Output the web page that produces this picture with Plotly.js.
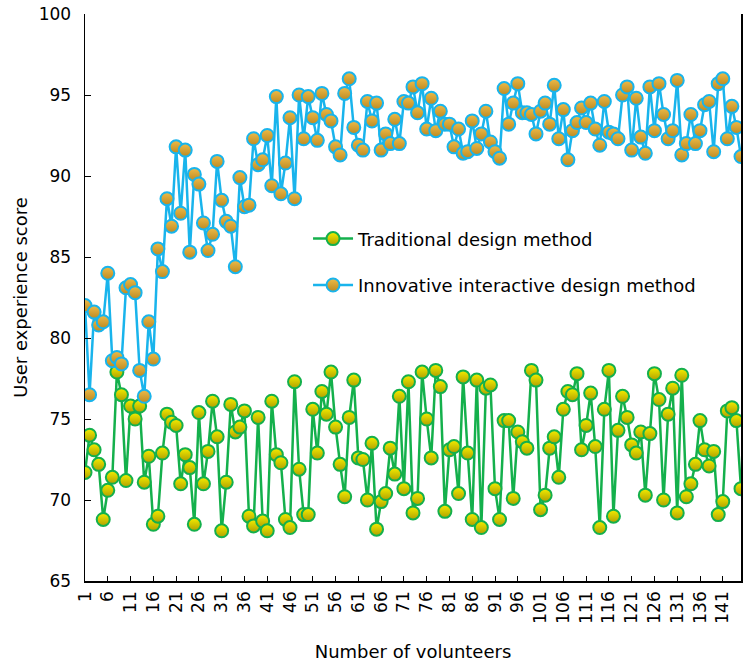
<!DOCTYPE html>
<html>
<head>
<meta charset="utf-8">
<script src="https://cdn.plot.ly/plotly-3.0.1.min.js"></script>
<style>html,body{margin:0;padding:0;background:#fff;}#chart{width:743px;height:665px;}</style>
</head>
<body>
<div id="chart"></div>
<script>
const volunteers = Array.from({length: 145}, (_, i) => i + 1);
const traditional = [
71.7,74.0,73.1,72.2,68.8,70.6,71.4,77.9,76.5,71.2,
75.8,75.0,75.8,71.1,72.7,68.5,69.0,72.9,75.3,74.8,
74.6,71.0,72.8,72.0,68.5,75.4,71.0,73.0,76.1,73.9,
68.1,71.1,75.9,74.2,74.5,75.5,69.0,68.4,75.1,68.7,
68.1,76.1,72.8,72.3,68.8,68.3,77.3,71.9,69.1,69.1,
75.6,72.9,76.7,75.3,77.9,74.5,72.2,70.2,75.1,77.4,
72.6,72.5,70.0,73.5,68.2,69.9,70.4,73.2,71.6,76.4,
70.7,77.3,69.2,70.1,77.9,75.0,72.6,78.0,77.0,69.3,
73.1,73.3,70.4,77.6,72.9,68.8,77.4,68.3,76.9,77.1,
70.7,68.8,74.9,74.9,70.1,74.2,73.6,73.2,78.0,77.4,
69.4,70.3,73.2,73.9,71.4,75.6,76.7,76.5,77.8,73.1,
74.6,76.6,73.3,68.3,75.6,78.0,69.0,74.3,76.4,75.1,
73.4,72.9,74.2,70.3,74.1,77.8,76.2,70.0,75.3,76.9,
69.2,77.7,70.2,71.0,72.2,74.9,73.1,72.1,73.0,69.1,
69.9,75.5,75.7,74.9,70.7
];
const innovative = [
82.0,76.5,81.6,80.8,81.0,84.0,78.6,78.8,78.4,83.1,
83.3,82.8,78.0,76.4,81.0,78.7,85.5,84.1,88.6,86.9,
91.8,87.7,91.6,85.3,90.1,89.5,87.1,85.4,86.4,90.9,
88.5,87.2,86.9,84.4,89.9,88.1,88.2,92.3,90.7,91.0,
92.5,89.4,94.9,88.9,90.8,93.6,88.6,95.0,92.3,94.9,
93.6,92.2,95.1,93.8,93.4,91.8,91.3,95.1,96.0,93.0,
91.9,91.6,94.6,93.4,94.5,91.6,92.6,92.0,93.5,92.0,
94.6,94.5,95.5,93.9,95.7,92.9,94.8,92.8,94.0,93.2,
93.2,91.8,92.9,91.4,91.5,93.4,91.7,92.6,94.0,92.1,
91.5,91.1,95.4,93.2,94.5,95.7,93.9,93.9,93.8,92.6,
94.0,94.5,93.2,95.6,92.3,94.1,91.0,92.8,93.3,94.2,
93.3,94.5,92.9,91.9,94.6,92.7,92.6,92.3,95.0,95.5,
91.6,94.8,92.4,91.4,95.5,92.8,95.7,93.8,92.3,92.8,
95.9,91.3,92.0,93.8,92.0,92.8,94.4,94.6,91.5,95.7,
96.0,92.3,94.3,93.0,91.2
];
const tickValues = [1,6,11,16,21,26,31,36,41,46,51,56,61,66,71,76,81,86,91,96,101,106,111,116,121,126,131,136,141];
const seriesNames = ['Traditional design method', 'Innovative interactive design method'];

const FONT = 'DejaVu Sans, Verdana, sans-serif';
const traces = [
  {
    x: volunteers, y: traditional, name: seriesNames[0], legendgroup: 'a',
    type: 'scatter', mode: 'lines+markers', cliponaxis: true,
    line: {color: '#14B04C', width: 2.5},
    marker: {size: 13, color: '#F4EE00', line: {color: '#14B04C', width: 2},
             gradient: {type: 'vertical', color: '#B0A000'}}
  },
  {
    x: volunteers, y: innovative, name: seriesNames[1], legendgroup: 'b',
    type: 'scatter', mode: 'lines+markers', cliponaxis: true,
    line: {color: '#19B4EC', width: 2.5},
    marker: {size: 13, color: '#EEBB48', line: {color: '#19B4EC', width: 2},
             gradient: {type: 'vertical', color: '#BC8A22'}}
  }
];
const layout = {
  width: 743, height: 665,
  margin: {l: 85, r: 2, t: 14, b: 84},
  paper_bgcolor: '#fff', plot_bgcolor: '#fff',
  font: {family: FONT, size: 17, color: '#000'},
  showlegend: true,
  legend: {x: 0.34, y: 0.636, xanchor: 'left', yanchor: 'top', bgcolor: 'rgba(0,0,0,0)',
           font: {family: FONT, size: 18, color: '#000'}, tracegroupgap: 20, itemwidth: 40},
  xaxis: {
    range: [1, 145], showgrid: false, zeroline: false,
    showline: true, linecolor: '#000', linewidth: 1.5,
    tickmode: 'array', tickvals: tickValues, ticktext: tickValues.map(String),
    tickangle: -90, ticks: 'inside', ticklen: 5, tickcolor: '#000',
    ticklabelstandoff: 2,
    tickfont: {family: FONT, size: 17},
    title: {text: 'Number of volunteers', font: {family: FONT, size: 18}, standoff: 22}
  },
  yaxis: {
    range: [65, 100], dtick: 5, showgrid: false, zeroline: false,
    showline: true, linecolor: '#000', linewidth: 1.5, mirror: true,
    ticks: 'inside', ticklen: 6, tickcolor: '#000',
    ticklabelstandoff: 9,
    tickfont: {family: FONT, size: 17},
    title: {text: 'User experience score', font: {family: FONT, size: 18}, standoff: 6}
  }
};
Plotly.newPlot('chart', traces, layout, {displayModeBar: false, staticPlot: true});
</script>
</body>
</html>
